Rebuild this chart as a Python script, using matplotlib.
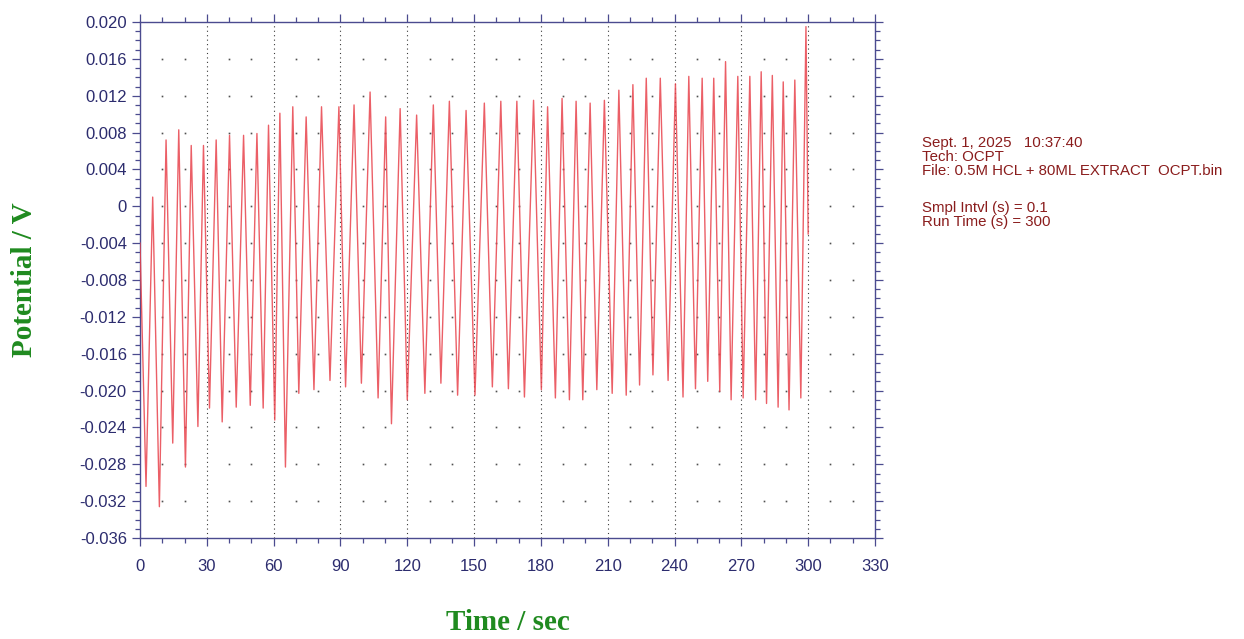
import numpy as np
import matplotlib
matplotlib.use("Agg")
import matplotlib.pyplot as plt
from matplotlib.ticker import FixedLocator, FixedFormatter, MultipleLocator

# turning points of the OCP trace (time in s, potential in V)
time_s = [0, 2.7, 5.7, 8.7, 11.7, 14.7, 17.4, 20.4, 23.0, 26.0, 28.5, 31.2, 34.2, 36.9,
          40.2, 43.2, 46.5, 49.5, 52.5, 55.3, 57.7, 60.5, 62.8, 65.3, 68.6, 71.3, 74.6,
          78.1, 81.5, 85.3, 89.3, 92.3, 96.1, 99.4, 103.3, 106.9, 110.3, 112.9, 116.8,
          120.0, 124.2, 127.9, 131.7, 135.1, 138.9, 142.6, 146.4, 150.4, 154.6, 158.2,
          162.0, 165.4, 169.2, 172.6, 176.7, 180.2, 183.0, 186.5, 189.5, 192.8, 195.8,
          198.8, 202.1, 205.1, 208.5, 212.0, 215.0, 218.3, 221.3, 224.3, 227.3, 230.3,
          233.6, 237.1, 240.4, 243.8, 246.4, 249.4, 252.4, 254.9, 257.6, 260.3, 262.9,
          265.4, 268.4, 270.8, 273.8, 276.4, 278.9, 281.3, 283.9, 286.5, 288.8, 291.4,
          294.0, 296.7, 299.0, 300.0]
potential_v = [-0.0040, -0.0304, 0.0010, -0.0326, 0.0072, -0.0257, 0.0083, -0.0283,
               0.0066, -0.0239, 0.0066, -0.0219, 0.0072, -0.0234, 0.0077, -0.0218,
               0.0077, -0.0216, 0.0079, -0.0219, 0.0088, -0.0232, 0.0101, -0.0283,
               0.0108, -0.0203, 0.0097, -0.0199, 0.0108, -0.0189, 0.0108, -0.0196,
               0.0110, -0.0192, 0.0124, -0.0208, 0.0097, -0.0236, 0.0106, -0.0210,
               0.0099, -0.0203, 0.0110, -0.0192, 0.0114, -0.0205, 0.0104, -0.0205,
               0.0112, -0.0196, 0.0114, -0.0198, 0.0114, -0.0207, 0.0115, -0.0199,
               0.0108, -0.0208, 0.0117, -0.0210, 0.0114, -0.0210, 0.0112, -0.0199,
               0.0115, -0.0203, 0.0126, -0.0205, 0.0132, -0.0194, 0.0139, -0.0183,
               0.0139, -0.0189, 0.0133, -0.0207, 0.0141, -0.0198, 0.0139, -0.0190,
               0.0139, -0.0201, 0.0157, -0.0210, 0.0141, -0.0208, 0.0141, -0.0210,
               0.0146, -0.0214, 0.0142, -0.0218, 0.0135, -0.0221, 0.0137, -0.0208,
               0.0195, -0.0030]

x_ticks = [0, 30, 60, 90, 120, 150, 180, 210, 240, 270, 300, 330]
y_ticks = [0.020, 0.016, 0.012, 0.008, 0.004, 0.0, -0.004, -0.008, -0.012, -0.016,
           -0.020, -0.024, -0.028, -0.032, -0.036]
y_labels = ["0.020", "0.016", "0.012", "0.008", "0.004", "0", "-0.004", "-0.008",
            "-0.012", "-0.016", "-0.020", "-0.024", "-0.028", "-0.032", "-0.036"]

info_lines = ["Sept. 1, 2025   10:37:40",
              "Tech: OCPT",
              "File: 0.5M HCL + 80ML EXTRACT  OCPT.bin"]
info_lines2 = ["Smpl Intvl (s) = 0.1",
               "Run Time (s) = 300"]

axis_col = "#4b4b8f"
label_col = "#2c2c6e"
green = "#1f8a1f"

fig = plt.figure(figsize=(12.44, 6.39), dpi=100)
ax = fig.add_axes([140 / 1244, 1 - 538 / 639, 735 / 1244, 516 / 639])

ax.plot(time_s, potential_v, color="#e8434c", lw=1.0, alpha=0.85, zorder=3)

ax.set_xlim(0, 330)
ax.set_ylim(-0.036, 0.020)

# dotted vertical grid at major x ticks
for xv in x_ticks[1:-1]:
    ax.axvline(xv, color="#3a3a3a", lw=0.8, ls=(0, (1, 3)), zorder=1)
# sparse dot rows at major y levels, on minor x positions
xm = [v for v in range(10, 330, 10) if v % 30 != 0]
for yv in y_ticks[1:-1]:
    ax.plot(xm, [yv] * len(xm), ls="none", marker="s", ms=1.2, color="#505050",
            mew=0, zorder=1)

ax.xaxis.set_major_locator(FixedLocator(x_ticks))
ax.xaxis.set_minor_locator(MultipleLocator(10))
ax.yaxis.set_major_locator(FixedLocator(y_ticks))
ax.yaxis.set_major_formatter(FixedFormatter(y_labels))
ax.yaxis.set_minor_locator(MultipleLocator(0.001))

ax.tick_params(which="both", direction="out", colors=axis_col, top=True, right=True,
               labelcolor=label_col, labelsize=12, width=0.9)
ax.tick_params(which="major", length=6)
ax.tick_params(which="minor", length=3.5)
ax.tick_params(axis="x", which="major", pad=9)
for lab in ax.get_xticklabels() + ax.get_yticklabels():
    lab.set_fontfamily("Liberation Sans")
for sp in ax.spines.values():
    sp.set_color(axis_col)
    sp.set_linewidth(1.0)

ax.set_xlabel("Time / sec", fontfamily="Liberation Serif", fontweight="bold",
              fontsize=21, color=green, labelpad=25)
ax.set_ylabel("Potential / V", fontfamily="Liberation Serif", fontweight="bold",
              fontsize=21, color=green, labelpad=30)

for i, line in enumerate(info_lines):
    fig.text(922 / 1244, 1 - (143 + 14 * i) / 639, line, fontsize=10.8,
             fontfamily="Liberation Sans", color="#8a1c1c", va="center")
for i, line in enumerate(info_lines2):
    fig.text(922 / 1244, 1 - (208 + 14 * i) / 639, line, fontsize=10.8,
             fontfamily="Liberation Sans", color="#8a1c1c", va="center")

fig.savefig("out.png", dpi=100, facecolor="white")
